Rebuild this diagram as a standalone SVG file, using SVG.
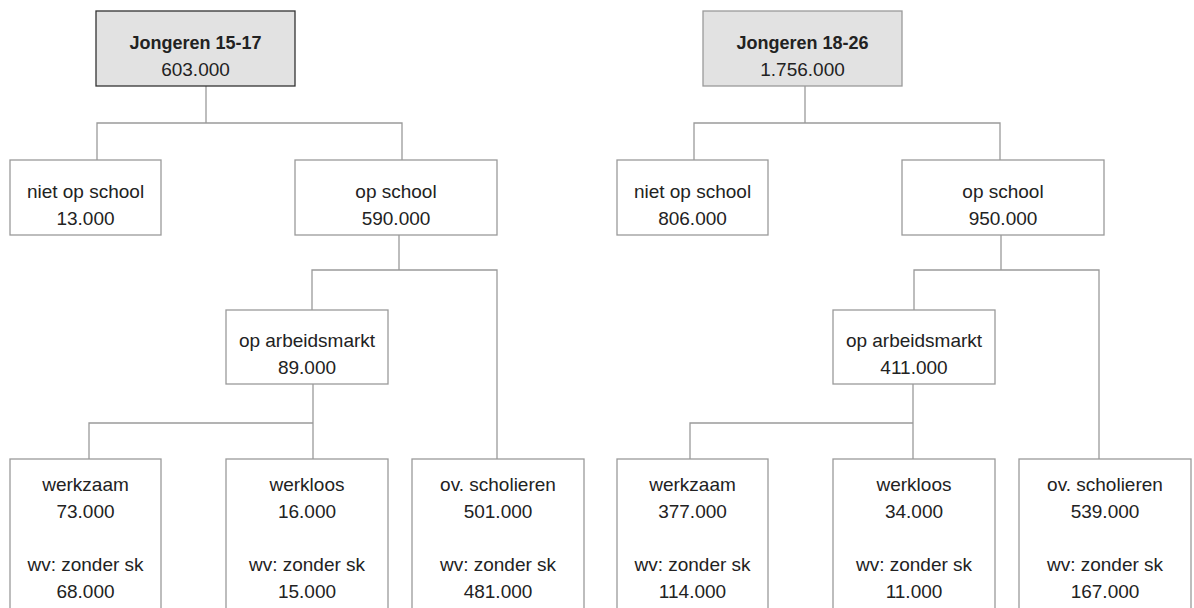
<svg xmlns="http://www.w3.org/2000/svg" width="1194" height="608" viewBox="0 0 1194 608">
<style>
.box{fill:#ffffff;stroke:#9a9a9a;stroke-width:1.3}
.root{fill:#e2e2e2;stroke:#9a9a9a;stroke-width:1.3}
.rootd{fill:#e2e2e2;stroke:#333333;stroke-width:1.3}
.con{fill:none;stroke:#9a9a9a;stroke-width:1.3}
text{font-family:"Liberation Sans",Arial,sans-serif;font-size:19px;fill:#222222;text-anchor:middle}
.b{font-weight:bold;font-size:18px}
</style>
<rect width="1194" height="608" fill="#ffffff"/>
<g id="connectors">
<path class="con" d="M206 86V123M97 160V123H402V160"/>
<path class="con" d="M399 235V270M312 310V270H497V459"/>
<path class="con" d="M313 384V459M89 459V423H313"/>
<path class="con" d="M805 86V123M694 160V123H1000V160"/>
<path class="con" d="M1001 235V270M914 310V270H1099V459"/>
<path class="con" d="M913 384V459M690 459V423H913"/>
</g>
<g id="root-left"><rect class="rootd" x="96" y="11" width="199" height="75"/><text class="b" x="195.5" y="49">Jongeren 15-17</text><text x="195.5" y="76">603.000</text></g>
<g id="niet-left"><rect class="box" x="10" y="160" width="151" height="75"/><text x="85.5" y="198">niet op school</text><text x="85.5" y="225">13.000</text></g>
<g id="school-left"><rect class="box" x="295" y="160" width="202" height="75"/><text x="396" y="198">op school</text><text x="396" y="225">590.000</text></g>
<g id="arbeid-left"><rect class="box" x="226" y="310" width="162" height="74"/><text x="307" y="347">op arbeidsmarkt</text><text x="307" y="374">89.000</text></g>
<g id="werkzaam-left"><rect class="box" x="10" y="459" width="151" height="170"/><text x="85.5" y="491">werkzaam</text><text x="85.5" y="518">73.000</text><text x="85.5" y="571">wv: zonder sk</text><text x="85.5" y="598">68.000</text></g>
<g id="werkloos-left"><rect class="box" x="226" y="459" width="162" height="170"/><text x="307" y="491">werkloos</text><text x="307" y="518">16.000</text><text x="307" y="571">wv: zonder sk</text><text x="307" y="598">15.000</text></g>
<g id="ov-left"><rect class="box" x="412" y="459" width="172" height="170"/><text x="498" y="491">ov. scholieren</text><text x="498" y="518">501.000</text><text x="498" y="571">wv: zonder sk</text><text x="498" y="598">481.000</text></g>
<g id="root-right"><rect class="root" x="703" y="11" width="199" height="75"/><text class="b" x="802.5" y="49">Jongeren 18-26</text><text x="802.5" y="76">1.756.000</text></g>
<g id="niet-right"><rect class="box" x="617" y="160" width="151" height="75"/><text x="692.5" y="198">niet op school</text><text x="692.5" y="225">806.000</text></g>
<g id="school-right"><rect class="box" x="902" y="160" width="202" height="75"/><text x="1003" y="198">op school</text><text x="1003" y="225">950.000</text></g>
<g id="arbeid-right"><rect class="box" x="833" y="310" width="162" height="74"/><text x="914" y="347">op arbeidsmarkt</text><text x="914" y="374">411.000</text></g>
<g id="werkzaam-right"><rect class="box" x="617" y="459" width="151" height="170"/><text x="692.5" y="491">werkzaam</text><text x="692.5" y="518">377.000</text><text x="692.5" y="571">wv: zonder sk</text><text x="692.5" y="598">114.000</text></g>
<g id="werkloos-right"><rect class="box" x="833" y="459" width="162" height="170"/><text x="914" y="491">werkloos</text><text x="914" y="518">34.000</text><text x="914" y="571">wv: zonder sk</text><text x="914" y="598">11.000</text></g>
<g id="ov-right"><rect class="box" x="1019" y="459" width="172" height="170"/><text x="1105" y="491">ov. scholieren</text><text x="1105" y="518">539.000</text><text x="1105" y="571">wv: zonder sk</text><text x="1105" y="598">167.000</text></g>
</svg>
